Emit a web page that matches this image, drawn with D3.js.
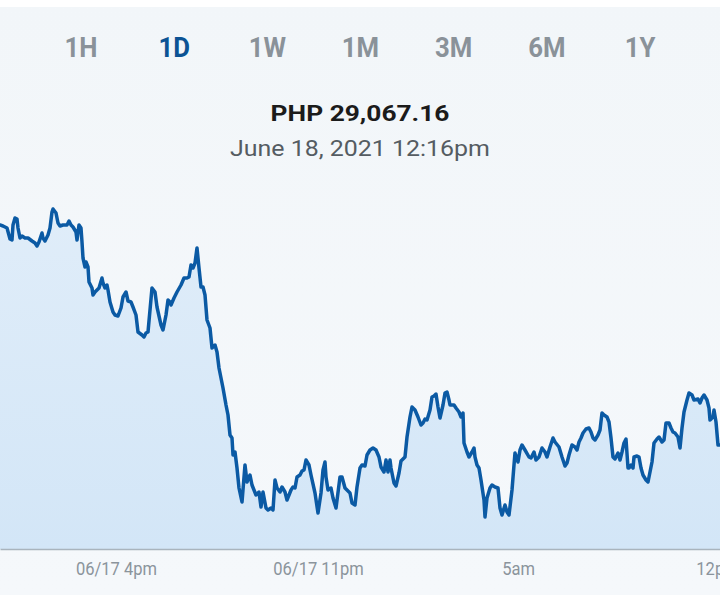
<!DOCTYPE html>
<html><head><meta charset="utf-8">
<script src="https://cdn.jsdelivr.net/npm/d3@7"></script>
<style>
html,body{margin:0;padding:0;background:#f3f7fa;}
svg{display:block;}
</style></head><body>
<svg id="chart" width="720" height="595"></svg>
<script>
// ---- data ----
const tabs = ["1H","1D","1W","1M","3M","6M","1Y"];
const activeTab = "1D";
const priceLabel = "PHP 29,067.16";
const dateLabel = "June 18, 2021 12:16pm";
const startTime = new Date(2021, 5, 17, 12, 16);   // 24h window start
const windowMinutes = 1440;
// minutes since startTime
const minutes = [0,6,14,20,24,26,30,34,36,40,44,50,56,64,70,74,78,84,86,90,96,100,104,106,112,116,120,126,134,138,142,146,152,154,158,162,164,166,170,172,176,178,184,186,190,194,198,204,206,210,214,216,220,226,230,236,242,246,252,256,262,266,272,276,284,288,
292,296,300,304,310,314,322,326,332,336,340,342,348,354,362,368,374,378,382,386,390,394,398,402,406,410,414,420,424,430,434,438,442,446,452,456,460,464,466,470,474,478,484,490,494,500,504,512,518,522,526,532,536,542,546,550,554,560,564,570,574,
582,586,590,594,600,604,608,612,618,622,630,636,642,646,650,652,656,662,666,672,680,684,690,694,700,704,710,714,720,724,730,734,740,746,752,758,762,768,772,776,780,782,788,792,798,802,810,814,820,824,830,836,842,846,850,854,860,864,
868,872,876,880,886,890,894,898,900,908,912,918,922,926,928,934,938,944,948,950,954,958,962,968,970,974,980,984,990,996,1000,1004,1010,1014,1018,1024,1028,1030,1036,1040,1044,1050,1058,1062,1068,1072,1078,1084,1090,1094,1100,1106,1110,1118,1124,1130,1134,1138,1144,1150,
1154,1158,1162,1166,1172,1178,1182,1186,1190,1196,1200,1204,1208,1214,1218,1222,1226,1230,1236,1240,1244,1248,1252,1256,1258,1262,1266,1268,1274,1278,1282,1286,1292,1296,1298,1304,1308,1314,1318,1324,1328,1332,1338,1342,1346,1350,1356,1360,1364,1368,1374,1378,1384,1388,1396,1400,1404,1408,1414,1418,1420,1426,1428,1432,1436,1440];
const prices = [31267,31257,31237,31127,31117,31267,31337,31327,31237,31137,31157,31137,31137,31107,31087,31057,31097,31187,31137,31107,31167,31237,31397,31427,31387,31287,31257,31267,31267,31307,31267,31247,31197,31117,31267,31237,31097,30937,30847,30897,30847,30697,30637,30567,30597,30617,30637,30737,30687,30637,30667,30617,30497,30397,30367,30357,30437,30547,30597,30507,30497,30447,30367,30197,30167,30147,
30187,30197,30417,30637,30597,30447,30267,30217,30367,30517,30497,30467,30537,30597,30667,30737,30737,30747,30867,30837,30887,31037,30837,30647,30647,30567,30317,30237,30037,30067,29997,29837,29737,29637,29467,29367,29167,29137,28967,28997,28837,28637,28497,28867,28697,28767,28667,28567,28597,28447,28597,28437,28417,28437,28417,28717,28637,28597,28647,28597,28517,
28617,28647,28637,28747,28767,28807,28817,28917,28867,28767,28587,28387,28587,28817,28897,28747,28617,28637,28537,28437,28747,28747,28637,28617,28587,28487,28467,28647,28837,28867,28857,28967,29017,29037,29017,28947,28847,28797,28917,28797,28917,28837,28687,28657,28787,28907,28947,29147,29347,29447,29417,29347,29267,29287,29327,29317,29417,29547,
29557,29577,29447,29337,29467,29587,29597,29517,29467,29467,29437,29397,29347,29387,29087,28997,28947,28997,29037,28947,28867,28837,28717,28517,28347,28537,28637,28667,28647,28637,28437,28367,28467,28397,28367,28617,28867,28987,28897,29017,29067,29017,28947,28937,28997,28917,28947,29037,28997,28947,29047,29137,29097,29047,28947,28857,28887,28967,29067,29047,
29017,29097,29137,29187,29227,29237,29197,29137,29117,29167,29217,29387,29367,29347,29297,29137,28947,28927,28987,28917,28997,29087,29127,28837,28837,28867,28837,28947,28957,28947,28837,28767,28717,28697,28747,28897,29087,29127,29147,29097,29117,29287,29287,29237,29197,29187,29147,29037,29237,29397,29517,29587,29567,29517,29527,29487,29537,29567,29517,29437,29317,29347,29417,29297,29067,29067.16];
const tickMinutes = [232, 636, 1036, 1434];
const tickLabels = ["06/17 4pm", "06/17 11pm", "5am", "12pm"];

// ---- chart ----
const W = 720, H = 595;
const svg = d3.select("#chart");
const addMin = m => new Date(startTime.getTime() + m * 60000);
const data = minutes.map((m, i) => ({t: addMin(m), v: prices[i]}));

const defs = svg.append("defs");
const bg = defs.append("linearGradient").attr("id","bgGrad").attr("x1",0).attr("y1",0).attr("x2",0).attr("y2",1);
bg.append("stop").attr("offset","0%").attr("stop-color","#f2f6f9");
bg.append("stop").attr("offset","100%").attr("stop-color","#f5f8fb");
const ag = defs.append("linearGradient").attr("id","areaGrad")
  .attr("gradientUnits","userSpaceOnUse").attr("x1",0).attr("y1",200).attr("x2",0).attr("y2",549);
ag.append("stop").attr("offset","0%").attr("stop-color","#e0edf9");
ag.append("stop").attr("offset","100%").attr("stop-color","#d3e6f7");

svg.append("rect").attr("width",W).attr("height",H).attr("fill","url(#bgGrad)");
svg.append("rect").attr("width",W).attr("height",7).attr("fill","#ffffff");

const x = d3.scaleTime().domain([startTime, addMin(windowMinutes)]).range([0, W]);
const y = d3.scaleLinear().domain([28200, 31500]).range([531.7, 201.7]);
const baseY = 549;

svg.append("path").datum(data)
  .attr("fill","url(#areaGrad)")
  .attr("d", d3.area().x(d => x(d.t)).y0(baseY).y1(d => y(d.v)));

svg.append("path").datum(data)
  .attr("fill","none").attr("stroke","#0b5aa4").attr("stroke-width",3.5)
  .attr("stroke-linejoin","round").attr("stroke-linecap","round")
  .attr("d", d3.line().x(d => x(d.t)).y(d => y(d.v)));

// axis
const xAxis = d3.axisBottom(x)
  .tickValues(tickMinutes.map(addMin))
  .tickFormat((d, i) => tickLabels[i])
  .tickSize(0).tickPadding(0);
const ax = svg.append("g").attr("transform", `translate(0,${baseY})`).call(xAxis);
ax.select(".domain").attr("stroke","#a9b4bd").attr("stroke-width",1.5);
ax.selectAll(".tick text")
  .attr("fill","#8b949c")
  .style("font-family","Roboto, sans-serif")
  .style("font-size","19px")
  .attr("dy", null).attr("y", 0)
  .attr("transform","translate(0,26) scale(0.87,1)");

// tabs
const tx = d3.scalePoint().domain(tabs).range([81, 640]);
svg.append("g").selectAll("text").data(tabs).join("text")
  .attr("transform", d => `translate(${tx(d)},57) scale(0.92,1)`)
  .attr("text-anchor","middle")
  .style("font-family","Roboto, sans-serif")
  .style("font-weight","700")
  .style("font-size","28px")
  .attr("fill", d => d === activeTab ? "#0b5394" : "#8a9299")
  .text(d => d);

// header
svg.append("text").attr("transform","translate(360,121) scale(1.17,1)")
  .attr("text-anchor","middle")
  .style("font-family","Roboto, sans-serif").style("font-weight","700").style("font-size","22.5px")
  .attr("fill","#1b1b1b").text(priceLabel);
svg.append("text").attr("transform","translate(360,156) scale(1.16,1)")
  .attr("text-anchor","middle")
  .style("font-family","Roboto, sans-serif").style("font-size","21.5px")
  .attr("fill","#555c62").text(dateLabel);
</script>
</body></html>
